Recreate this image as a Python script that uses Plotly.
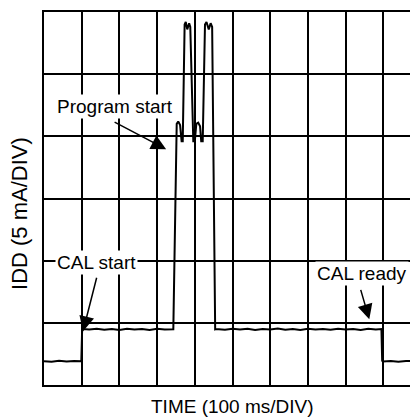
import plotly.graph_objects as go

# Time in ms (100 ms/DIV), current in mA (5 mA/DIV)
t_ms = [0, 20, 40, 60, 80, 99,
        101, 103, 120, 140, 160, 180, 200, 220, 240, 260, 280, 300, 320, 335, 343,
        352, 356, 361, 365, 368, 373, 376, 380, 385, 388, 396,
        400, 404, 409, 414, 417, 421, 427, 431, 437, 442, 446, 454,
        456, 480, 500, 520, 540, 560, 580, 600, 620, 640, 660, 680, 700, 720, 740,
        760, 780, 800, 820, 840, 860, 880, 895,
        897, 899, 920, 940, 960, 980, 992]
idd_mA = [1.92, 1.88, 1.95, 1.90, 1.94, 1.92,
          4.30, 4.50, 4.46, 4.52, 4.44, 4.50, 4.42, 4.53, 4.46, 4.50, 4.43, 4.52, 4.47, 4.50, 4.48,
          21.0, 21.2, 20.9, 19.6, 19.6, 29.0, 29.2, 28.6, 29.1, 28.8, 19.6,
          19.6, 21.0, 21.1, 20.8, 19.6, 19.6, 29.0, 29.2, 28.6, 29.1, 28.8, 4.48,
          4.50, 4.44, 4.52, 4.46, 4.53, 4.42, 4.50, 4.47, 4.55, 4.45, 4.50, 4.43, 4.52, 4.46, 4.50,
          4.44, 4.53, 4.47, 4.50, 4.42, 4.52, 4.46, 4.50,
          1.95, 1.90, 1.94, 1.88, 1.93, 1.90, 1.92]

x_max_ms = 992
y_max_mA = 30

fig = go.Figure()
fig.add_trace(go.Scatter(x=t_ms, y=idd_mA, mode="lines",
                         line=dict(color="black", width=2), hoverinfo="skip",
                         showlegend=False))

font = dict(family="Liberation Sans, Arial, sans-serif", size=19, color="black")
yfont = dict(family="Liberation Sans, Arial, sans-serif", size=22, color="black")

fig.update_xaxes(range=[0, x_max_ms], dtick=100, showgrid=True, gridcolor="black",
                 gridwidth=1.5, showticklabels=False, ticks="", zeroline=False,
                 showline=True, linecolor="black", linewidth=2, mirror=True)
fig.update_yaxes(range=[0, y_max_mA], dtick=5, showgrid=True, gridcolor="black",
                 gridwidth=1.5, showticklabels=False, ticks="", zeroline=False,
                 showline=True, linecolor="black", linewidth=2, mirror=False)

annotations = [
    # labels
    dict(x=29.2, y=22.4, text="Program start", xanchor="left", yanchor="middle",
         showarrow=False, bgcolor="white", font=font),
    dict(x=29.2, y=9.84, text="CAL start", xanchor="left", yanchor="middle",
         showarrow=False, bgcolor="white", font=font),
    dict(x=719.4, y=8.96, text="CAL ready", xanchor="left", yanchor="middle",
         showarrow=False, bgcolor="white", font=font),
    # arrows
    dict(x=323.9, y=18.96, ax=-53, ay=-28, text="", showarrow=True,
         arrowhead=2, arrowsize=2, arrowwidth=1.5, arrowcolor="black"),
    dict(x=103.5, y=4.32, ax=14, ay=-55, text="", showarrow=True,
         arrowhead=2, arrowsize=2, arrowwidth=1.5, arrowcolor="black"),
    dict(x=862.8, y=5.28, ax=-9, ay=-31, text="", showarrow=True,
         arrowhead=2, arrowsize=2, arrowwidth=1.5, arrowcolor="black"),
    # axis titles
    dict(x=0.503, y=-0.0587, xref="paper", yref="paper", text="TIME (100 ms/DIV)",
         showarrow=False, xanchor="center", yanchor="middle", font=font),
    dict(x=-0.064, y=0.4587, xref="paper", yref="paper", text="IDD (5 mA/DIV)",
         showarrow=False, xanchor="center", yanchor="middle", textangle=-90, font=yfont),
]

# page body has an 8 px margin, so margins are shifted by -8 px
fig.update_layout(width=418, height=418, margin=dict(l=36, r=8, t=2, b=41),
                  paper_bgcolor="white", plot_bgcolor="white",
                  annotations=annotations)

fig.write_html("out.html")
